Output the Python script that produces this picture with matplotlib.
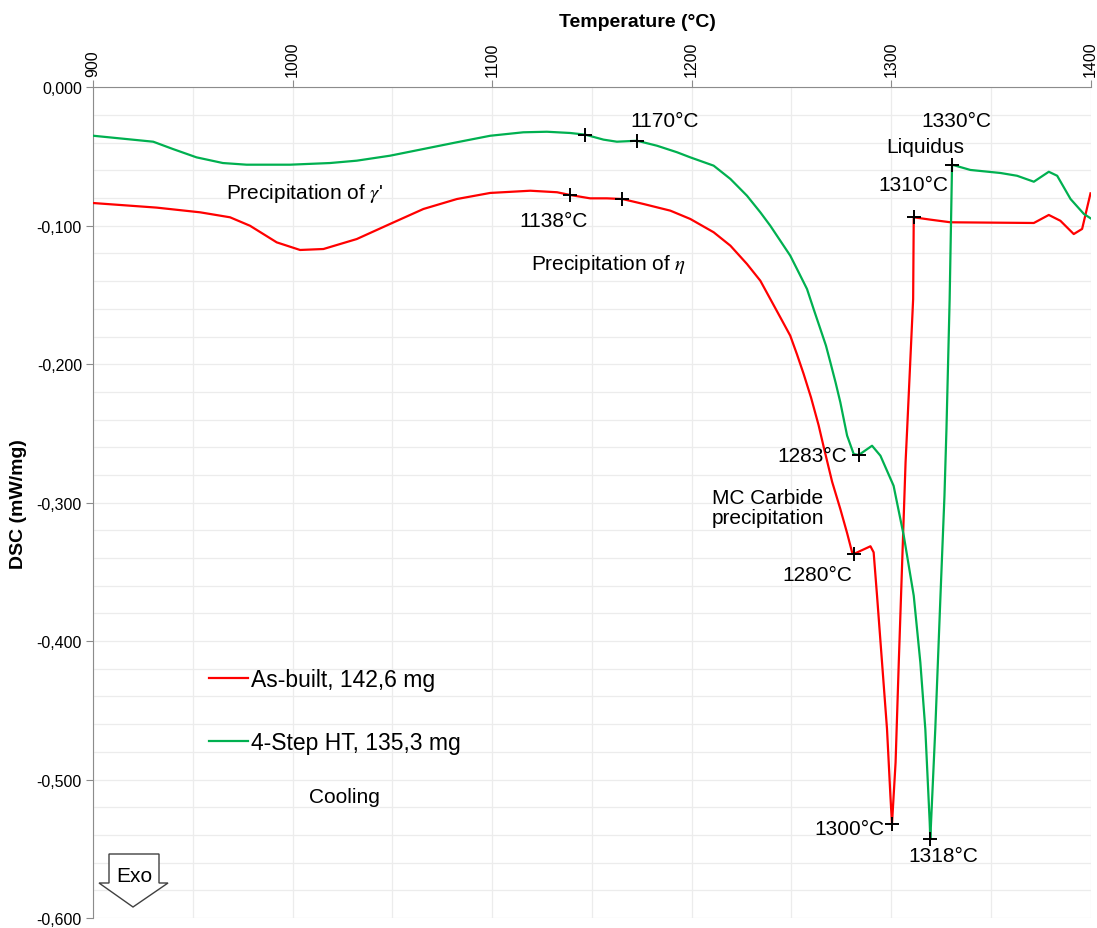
import matplotlib
matplotlib.use("Agg")
import matplotlib.pyplot as plt
from matplotlib.lines import Line2D
from matplotlib.patches import Polygon
from matplotlib.ticker import MultipleLocator, FuncFormatter

plt.rcParams['font.family'] = ['Liberation Sans', 'DejaVu Sans']
plt.rcParams['mathtext.fontset'] = 'stix'

# As-built, 142,6 mg (red)
red_T = [900.2, 931.9, 953.7, 968.7, 978.7, 992.1, 1003.8, 1015.5, 1032.2, 1048.9,
         1065.6, 1082.4, 1099.1, 1119.2, 1132.6, 1139.2, 1149.2, 1157.6, 1165.4, 1176.0,
         1189.4, 1199.4, 1211.1, 1219.5, 1227.8, 1234.5, 1239.5, 1244.5, 1249.5, 1252.9,
         1256.2, 1259.9, 1263.7, 1266.3, 1270.5, 1274.6, 1278.0, 1280.5, 1281.3,
         1289.7, 1291.3, 1293.0, 1295.5, 1298.0, 1299.7, 1300.5, 1302.3, 1303.9, 1305.6,
         1307.3, 1308.1, 1311.1, 1311.4, 1319.8, 1329.8, 1371.6, 1379.1, 1384.9, 1391.6,
         1395.8, 1400.0]
red_v = [-0.0836, -0.0869, -0.0903, -0.0939, -0.1000, -0.1120, -0.1175, -0.1168, -0.1096, -0.0987,
         -0.0879, -0.0807, -0.0763, -0.0747, -0.0758, -0.0778, -0.0802, -0.0802, -0.0807, -0.0843,
         -0.0891, -0.0951, -0.1047, -0.1144, -0.1276, -0.1397, -0.1529, -0.1661, -0.1794, -0.1930,
         -0.2070, -0.2240, -0.2440, -0.2600, -0.2850, -0.3046, -0.3220, -0.3359, -0.3371,
         -0.3315, -0.3359, -0.3672, -0.4153, -0.4635, -0.5117, -0.5321, -0.4875, -0.4153, -0.3431,
         -0.2709, -0.2468, -0.1529, -0.0939, -0.0956, -0.0975, -0.0980, -0.0922, -0.0964, -0.1060,
         -0.1023, -0.0766]

# 4-Step HT, 135,3 mg (green)
green_T = [900.2, 930.2, 940.1, 951.9, 965.1, 977.0, 998.7, 1018.8, 1032.2, 1048.9,
           1065.5, 1082.4, 1099.1, 1115.7, 1127.5, 1139.2, 1146.7, 1155.9, 1162.6, 1172.7,
           1182.7, 1192.7, 1199.4, 1211.1, 1219.5, 1227.8, 1234.5, 1239.5, 1244.5, 1249.5,
           1253.7, 1257.9, 1261.2, 1264.6, 1267.4, 1269.6, 1272.2, 1274.6, 1276.3, 1278.0,
           1281.3, 1283.8, 1290.5, 1294.7, 1301.3, 1306.4, 1311.4, 1314.7, 1317.2, 1319.4,
           1319.7, 1322.2, 1324.8, 1326.8, 1327.8, 1329.4, 1330.6, 1339.8, 1354.9, 1363.2,
           1371.6, 1379.1, 1383.3, 1390.0, 1396.7, 1400.0]
green_v = [-0.0350, -0.0393, -0.0446, -0.0506, -0.0547, -0.0559, -0.0559, -0.0547, -0.0530, -0.0494,
           -0.0446, -0.0397, -0.0350, -0.0325, -0.0321, -0.0330, -0.0342, -0.0378, -0.0393, -0.0386,
           -0.0422, -0.0469, -0.0506, -0.0566, -0.0662, -0.0783, -0.0903, -0.1000, -0.1108, -0.1216,
           -0.1336, -0.1457, -0.1601, -0.1746, -0.1866, -0.1986, -0.2131, -0.2275, -0.2396, -0.2516,
           -0.2649, -0.2656, -0.2589, -0.2661, -0.2878, -0.3239, -0.3672, -0.4153, -0.4635, -0.5309,
           -0.5429, -0.4635, -0.3672, -0.2950, -0.2468, -0.1529, -0.0559, -0.0597, -0.0619, -0.0639,
           -0.0682, -0.0610, -0.0639, -0.0807, -0.0915, -0.0946]

# characteristic points (+ markers)
red_mark_T = [1139.2, 1165.4, 1281.3, 1300.5, 1311.4]
red_mark_v = [-0.0778, -0.0807, -0.3371, -0.5321, -0.0939]
green_mark_T = [1146.7, 1172.7, 1283.8, 1319.7, 1330.6]
green_mark_v = [-0.0342, -0.0386, -0.2656, -0.5429, -0.0559]

# annotation texts and their positions (data coords)
labels = ["1170°C", "1330°C", "Liquidus", "1310°C", "Precipitation of $\\gamma$'",
          "1138°C", "Precipitation of $\\eta$", "1283°C", "1280°C", "1300°C", "1318°C"]
label_T = [1186.7, 1333.0, 1317.0, 1311.0, 1006.0, 1131.0, 1158.6, 1260.4, 1263.0, 1279.4, 1326.0]
label_v = [-0.0239, -0.0239, -0.0430, -0.0701, -0.0759, -0.0961, -0.1270, -0.2660, -0.3520, -0.5350, -0.5550]

legend_labels = ["As-built, 142,6 mg", "4-Step HT, 135,3 mg"]

W, H = 1097, 929
fig = plt.figure(figsize=(W / 100, H / 100), dpi=100)
ax = fig.add_axes([93 / W, 1 - 919 / H, (1090.5 - 93) / W, (919 - 88.3) / H])

ax.plot(red_T, red_v, color='#ff0000', lw=1.6, zorder=3, solid_joinstyle='round')
ax.plot(green_T, green_v, color='#00b050', lw=1.6, zorder=3, solid_joinstyle='round')
ax.plot(red_mark_T, red_mark_v, '+', color='black', ms=10, mew=1.4, zorder=4)
ax.plot(green_mark_T, green_mark_v, '+', color='black', ms=10, mew=1.4, zorder=4)

for txt, t, v in zip(labels, label_T, label_v):
    ax.text(t, v, txt, fontsize=15, ha='center', va='center', zorder=5)
ax.text(1210.3, -0.3036, "MC Carbide\nprecipitation", fontsize=15, ha='left', va='center',
        linespacing=1.05, zorder=5)
ax.text(1025.9, -0.5126, "Cooling", fontsize=15, ha='center', va='center')

ax.set_xlim(900, 1400)
ax.set_ylim(-0.6, 0)
ax.xaxis.tick_top()
ax.xaxis.set_label_position('top')
ax.xaxis.set_major_locator(MultipleLocator(100))
ax.xaxis.set_minor_locator(MultipleLocator(50))
ax.yaxis.set_major_locator(MultipleLocator(0.1))
ax.yaxis.set_minor_locator(MultipleLocator(0.02))
ax.yaxis.set_major_formatter(FuncFormatter(lambda v, p: f"{v:.3f}".replace('.', ',').replace('-0,000', '0,000')))
ax.xaxis.set_major_formatter(FuncFormatter(lambda v, p: f"{v:.0f}"))
for lab in ax.get_xticklabels():
    lab.set_rotation(90)
ax.tick_params(axis='both', which='major', length=5, color='#8c8c8c', labelsize=11.5, pad=3)
ax.tick_params(axis='both', which='minor', length=0)
ax.grid(True, which='both', color='#ececec', lw=0.9, zorder=0)
ax.set_axisbelow(True)
for s in ['right', 'bottom']:
    ax.spines[s].set_visible(False)
for s in ['top', 'left']:
    ax.spines[s].set_color('#8c8c8c')

ax.set_xlabel("Temperature (°C)", fontsize=14, fontweight='bold')
ax.xaxis.set_label_coords(0.546, 1.074)
ax.set_ylabel("DSC (mW/mg)", fontsize=14, fontweight='bold')
ax.yaxis.set_label_coords(-0.066, 0.5)

handles = [Line2D([], [], color='#ff0000', lw=1.6), Line2D([], [], color='#00b050', lw=1.6)]
ax.legend(handles, legend_labels, loc='upper left', bbox_to_anchor=(0.1163, 0.301),
          frameon=False, fontsize=16.5, handlelength=1.7, handletextpad=0.13,
          labelspacing=1.75, borderpad=0, borderaxespad=0)

# Exo arrow
pts = [(109, 855), (159, 855), (159, 884), (168, 884), (133, 908), (99, 884), (109, 884)]
arrow = Polygon([(x / W, 1 - y / H) for x, y in pts], closed=True, transform=fig.transFigure,
                facecolor='white', edgecolor='#404040', lw=1, zorder=6)
fig.patches.append(arrow)
fig.text(134 / W, 1 - 877 / H, "Exo", fontsize=15, ha='center', va='center', zorder=7)

fig.savefig("out.png", dpi=100)
